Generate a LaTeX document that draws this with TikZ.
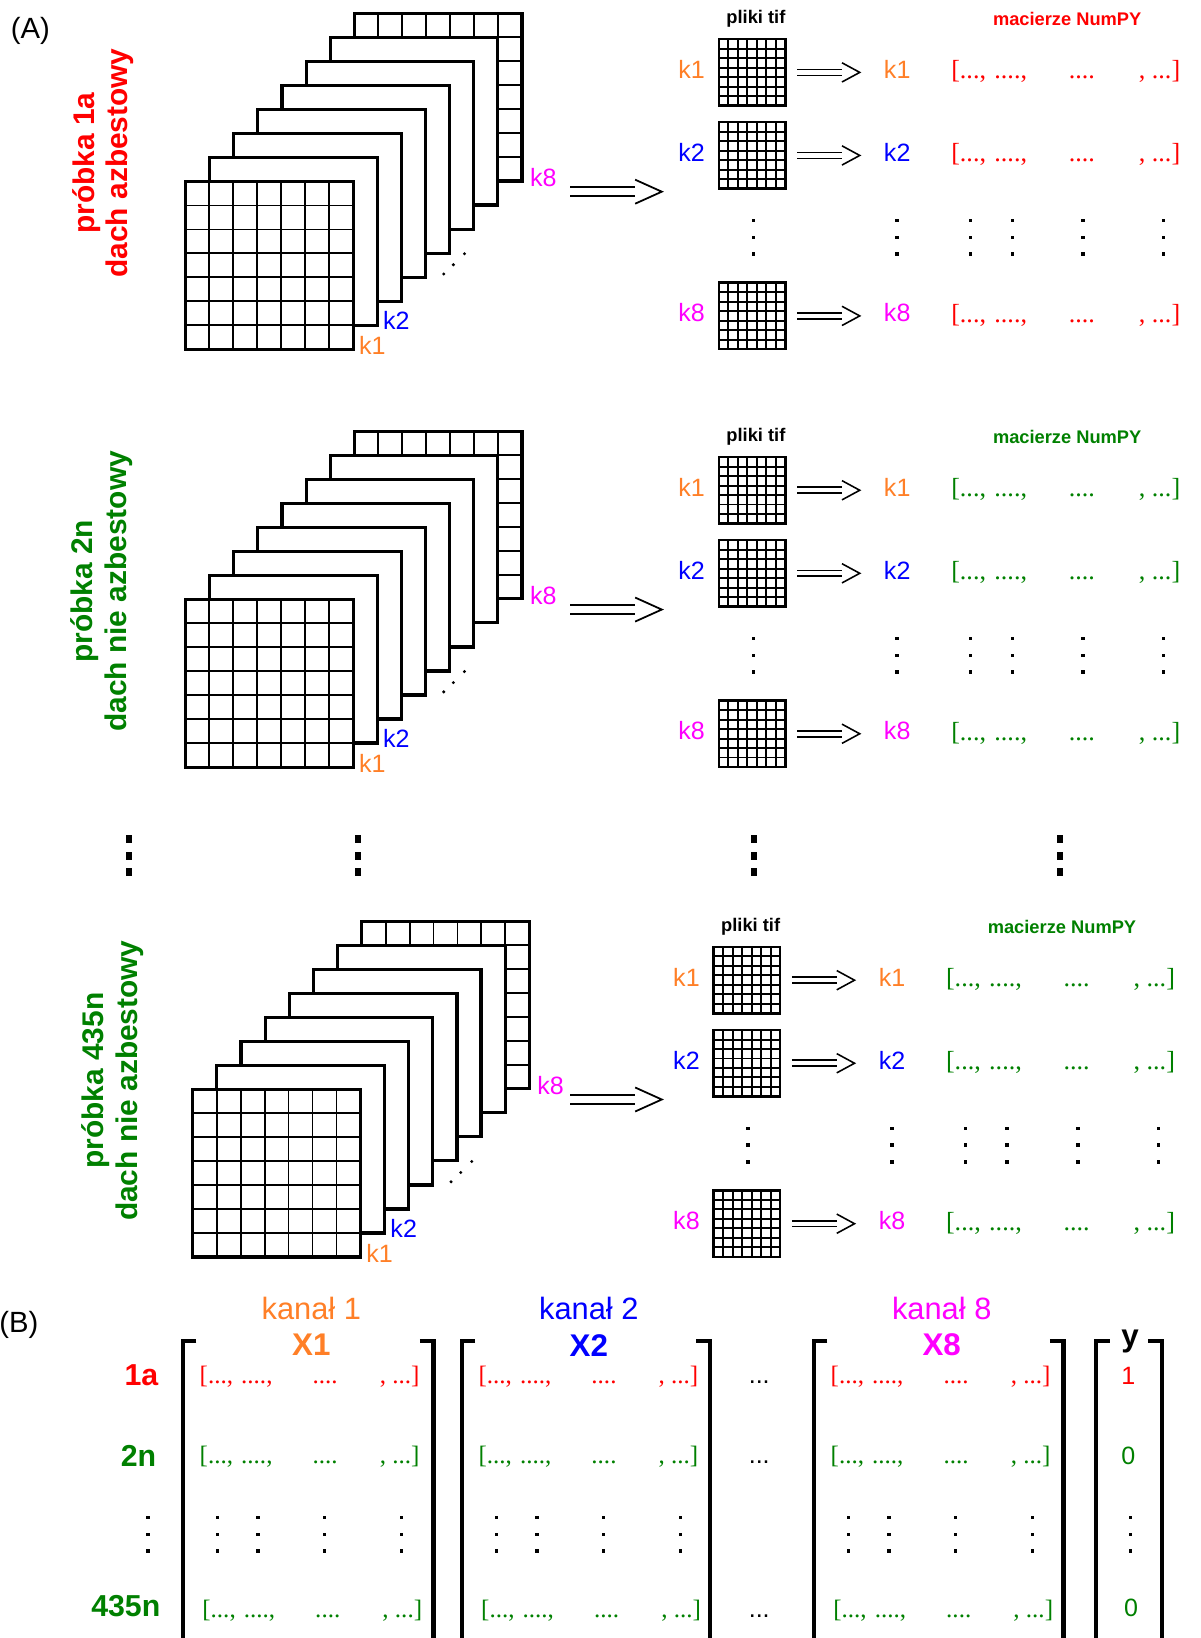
\documentclass[tikz,border=0pt]{standalone}
\usepackage{fontspec}
\setmainfont{Liberation Sans}
\newfontfamily\serifnum{Liberation Serif}
\usetikzlibrary{arrows.meta,positioning,calc,decorations.markings}
\definecolor{chred}{RGB}{255,0,0}
\definecolor{chgreen}{RGB}{0,128,0}
\definecolor{chorange}{RGB}{255,127,39}
\definecolor{chblue}{RGB}{0,0,255}
\definecolor{chmagenta}{RGB}{255,0,255}
\newcommand{\fs}[1]{\fontsize{#1}{#1}\selectfont}
\newcommand{\npyrow}{[...,\hspace{0.32em}....,\hspace{1.6em}....\hspace{1.68em}, ...]}
\newcommand{\threedots}[2]{\foreach \dz in {-16,0,16} {\fill ({#1-1.6},{#2+(\dz)-1.6}) rectangle ++(3.2,3.2);}}
\tikzset{
  cells/.style={path picture={
      \foreach \cl in {1,...,6}{
        \draw[line width=#1]
          ($(path picture bounding box.north west)!\cl/7!(path picture bounding box.north east)$) --
          ($(path picture bounding box.south west)!\cl/7!(path picture bounding box.south east)$)
          ($(path picture bounding box.north west)!\cl/7!(path picture bounding box.south west)$) --
          ($(path picture bounding box.north east)!\cl/7!(path picture bounding box.south east)$);
      }}},
  layer/.style={draw, line width=3pt, fill=white, minimum size=160.5pt, inner sep=0pt, anchor=north west},
  tif/.style={draw, line width=2.4pt, fill=white, minimum size=63.6pt, inner sep=0pt, cells=1.9pt},
  klabel/.style={font=\fs{24}, inner sep=0pt},
  side/.style={font=\bfseries\fontsize{28.6}{32}\selectfont, rotate=90, align=center, text=#1},
  head/.style={font=\bfseries\fs{17.5}},
  npy/.style={font=\serifnum\fs{#1}, inner sep=0pt, anchor=west},
  % double shaft + open chevron head
  implies/.style n args={4}{
    preaction={draw, double distance=#1, line width=#2, shorten >=#3},
    postaction={decorate, decoration={markings, mark=at position 1 with
      {\draw[line width=#2] (-#3,#4) -- (0pt,0pt) -- (-#3,-#4);}}}},
  bigarrow/.style={implies={6.6pt}{1.7pt}{25.5pt}{11.5pt}},
  smallarrow/.style={implies={4.2pt}{1.5pt}{17pt}{9.2pt}},
  brk/.style={line width=4pt},
  matbox/.style={minimum height=300pt, inner sep=0pt, outer sep=0pt, anchor=north west},
}
\begin{document}
\begin{tikzpicture}[x=1pt, y=-1pt]
  \useasboundingbox (0,0) rectangle (1149,1568);
  \node[font=\fs{28}] (tagA) at (29,29.5) {(A)};
  % three samples: stack of 8 channels -> tif files -> numpy arrays
  \foreach \blk/\dy/\sx/\rx/\col/\lx/\ly/\txt in {
      1/0/0/0/chred/98.5/156/{próbka 1a\\dach azbestowy},
      2/400/0/0/chgreen/97.5/166/{próbka 2n\\dach nie azbestowy},
      3/869/7/-5/chgreen/108/165.5/{próbka 435n\\dach nie azbestowy}} {
    \begin{scope}[name prefix=b\blk-, shift={(0,\dy)}]
      \node[side=\col] (title) at (\lx,\ly) {\txt};
      \begin{scope}[shift={(\sx,0)}]
        \node[layer, cells=1.8pt] (L7) at ({176+23.1*7},{172.3-23*7}) {};
        \foreach \jj in {6,...,1}
          {\node[layer] (L\jj) at ({176+23.1*\jj},{172.3-23*\jj}) {};}
        \node[layer, cells=1.8pt] (L0) at (176,172.3) {};
        \node[klabel, text=chorange, anchor=south west] (k1) at ([xshift=4pt,yshift=-4pt]L0.south east) {k1};
        \node[klabel, text=chblue, anchor=south west] (k2) at ([xshift=4pt,yshift=-3pt]L1.south east) {k2};
        \node[klabel, text=chmagenta, anchor=south west] (k8) at ([xshift=6pt,yshift=-4pt]L7.south east) {k8};
        \foreach \px/\py in {424.8/262.3, 434/253.4, 444.6/242.9}
          {\fill (\px,\py) circle (1.6);}
      \end{scope}
      \coordinate (go) at (545.8,183.5);
      \coordinate (come) at (633.5,183.5);
      \path[bigarrow] (go) -- (come);
      \begin{scope}[shift={(\rx,0)}]
        \node[head] (tifhead) at (723.6,18.3) {pliki tif};
        \node[head, text=\col] (npyhead) at (1021.6,18.3) {macierze NumPY};
        \foreach \kn/\kc/\ry in {1/chorange/69.3, 2/chblue/148.8, 8/chmagenta/302.4} {
          \node[tif] (g\kn) at (720,\ry) {};
          \node[klabel, text=\kc, left=12pt of g\kn, yshift=3pt] (kl\kn) {k\kn};
          \node[klabel, text=\kc, right=93pt of g\kn, yshift=3pt] (kr\kn) {k\kn};
          \node[npy=25, text=\col] (row\kn) at (910.4,\ry-0.6) {\npyrow};
          \path[smallarrow] ([xshift=10pt]g\kn.east) -- ([xshift=-23pt]g\kn.east -| kr\kn.west);
        }
        \foreach \px in {721,858.8,929,969,1036.8,1114}
          {\threedots{\px}{227.2}}
      \end{scope}
    \end{scope}
  }
  % samples in between
  \foreach \px in {123.7,342.5,721.8,1015}
    {\foreach \py in {803.2,819.4,835}
      {\fill ({\px-2.8},{\py-3.7}) rectangle ++(5.6,7.4);}}
  % (B) stacked feature matrices
  \node[font=\fs{28}] (tagB) at (18,1268) {(B)};
  \foreach \mm/\mx/\mw/\mc in {1/175/240/chorange, 2/441.9/237.6/chblue, 8/779/239/chmagenta} {
    \node[matbox, minimum width=\mw pt] (M\mm) at (\mx,1283.7) {};
    \draw[brk] ([xshift=13pt]M\mm.north west) -- (M\mm.north west) -- (M\mm.south west);
    \draw[brk] ([xshift=-13pt]M\mm.north east) -- (M\mm.north east) -- (M\mm.south east);
    \node[font=\fs{29.5}, text=\mc] (kan\mm) at ($(M\mm.north)+(3,-31)$) {kanał \mm};
    \node[font=\bfseries\fs{30}, text=\mc] (X\mm) at ($(M\mm.north)+(3,4)$) {X\mm};
    \node[npy=24, text=chred] (X\mm-a) at ($(M\mm.north west)+(16,34.3)$) {\npyrow};
    \node[npy=24, text=chgreen] (X\mm-b) at ($(M\mm.north west)+(16,111)$) {\npyrow};
    \node[npy=24, text=chgreen] (X\mm-c) at ($(M\mm.north west)+(18.5,257.9)$) {\npyrow};
    \foreach \dx in {33.5,72,135.5,209.5}
      {\threedots{\mx+\dx}{1468.7}}
  }
  \node[font=\bfseries\fs{29}, text=chred, anchor=east] (s1a) at (155,1316.6) {1a};
  \node[font=\bfseries\fs{29}, text=chgreen, anchor=east] (s2n) at (153,1394) {2n};
  \threedots{141.8}{1468.7}
  \node[font=\bfseries\fs{29}, text=chgreen, anchor=east] (s435n) at (157,1537.6) {435n};
  \node[font=\fs{24}, anchor=base] (gapA) at (726.8,1324.5) {...};
  \node[font=\fs{24}, anchor=base] (gapB) at (726.8,1401) {...};
  \node[font=\fs{24}, anchor=base] (gapC) at (726.8,1548) {...};
  % labels
  \node[matbox, minimum width=62.6pt] (My) at (1049.4,1283.7) {};
  \draw[brk] ([xshift=13pt]My.north west) -- (My.north west) -- (My.south west);
  \draw[brk] ([xshift=-13pt]My.north east) -- (My.north east) -- (My.south east);
  \node[font=\bfseries\fs{30}] (ylab) at (1081.7,1284.6) {y};
  \node[font=\fs{24}, text=chred] (y1) at (1080,1316.6) {1};
  \node[font=\fs{24}, text=chgreen] (y2) at (1080,1394) {0};
  \threedots{1082}{1468.7}
  \node[font=\fs{24}, text=chgreen] (y3) at (1082.7,1539) {0};
\end{tikzpicture}
\end{document}
